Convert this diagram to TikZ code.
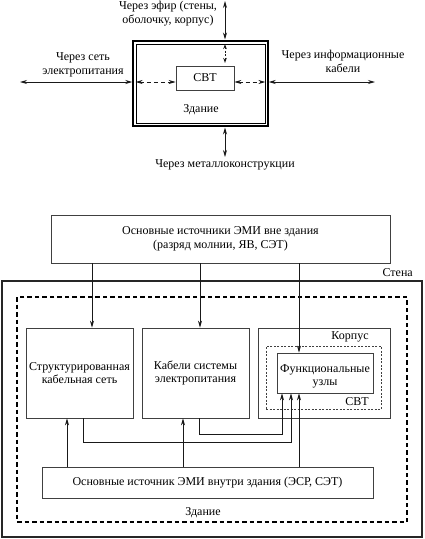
\documentclass[tikz,border=0pt]{standalone}
\usepackage{fontspec}
\setmainfont{Liberation Serif}
\usetikzlibrary{arrows.meta}
\begin{document}
\begin{tikzpicture}[x=1pt,y=-1pt,
  every node/.style={font=\fontsize{12}{13.5}\selectfont, inner sep=0pt},
  lbl/.style={align=center},
  box/.style={draw=black!75, line width=0.7pt, align=center},
  ln/.style={line width=0.8pt, draw=black!90},
  arr/.style={ln, -{Stealth[length=7pt,width=4pt]}},
  darr/.style={ln, {Stealth[length=7pt,width=4pt]}-{Stealth[length=7pt,width=4pt]}},
  ddarr/.style={darr, dash pattern=on 4pt off 3pt},
  bigdash/.style={line width=1.2pt, dash pattern=on 4.5pt off 3pt},
  smalldash/.style={line width=0.7pt, dash pattern=on 2pt off 1.5pt, draw=black!75}
]
\useasboundingbox (0,0) rectangle (424,539);

% ---------- top figure ----------
\node[draw, line width=1.5pt, minimum width=135pt, minimum height=85pt] (bld) at (200.5,83.5) {};
\node[draw, line width=0.7pt, minimum width=129pt, minimum height=79pt] (bldin) at (200.5,83.5) {};
\node[box, minimum width=58pt, minimum height=24pt] (svt) at (205,78) {СВТ};
\node[lbl] (zd1) at (201,110) {Здание};

\coordinate (lA) at (20,82);
\coordinate (lB) at (bld.west |- lA);
\coordinate (liA) at (bldin.west |- lA);
\coordinate (liB) at (svt.west |- lA);
\coordinate (riA) at (svt.east |- lA);
\coordinate (riB) at (bldin.east |- lA);
\coordinate (rA) at (bld.east |- lA);
\coordinate (rB) at (375,82);
\coordinate (tA) at (225,1);
\coordinate (tB) at (225,39.5);
\coordinate (tiA) at (225,44);
\coordinate (tiB) at (225,63);
\coordinate (bA) at (225,127.5);
\coordinate (bB) at (225,157);

\draw[darr] (lA) -- (lB);
\draw[ddarr] (liA) -- (liB);
\draw[ddarr] (riA) -- (riB);
\draw[darr] (rA) -- (rB);
\draw[darr] (tA) -- (tB);
\draw[ln, dash pattern=on 2pt off 1.5pt, {Stealth[length=5pt,width=3.5pt,open]}-{Stealth[length=5pt,width=3.5pt,open]}] (tiA) -- (tiB);
\draw[darr] (bA) -- (bB);

\node[lbl] (t1) at (168,13.5) {Через эфир (стены,\\оболочку, корпус)};
\node[lbl] (t2) at (83,65) {Через сеть\\электропитания};
\node[lbl] (t3) at (343,61.5) {Через информационные\\кабели};
\node[lbl] (t4) at (225,165) {Через металлоконструкции};

% ---------- bottom figure ----------
\node[box, minimum width=339pt, minimum height=48pt] (src) at (220.5,239) {Основные источники ЭМИ вне здания\\(разряд молнии, ЯВ, СЭТ)};
\node[draw=black!85, line width=1.1pt, minimum width=420pt, minimum height=256pt] (wall) at (212,409) {};
\node[lbl, anchor=east] (stena) at (413,273) {Стена};
\node[draw, bigdash, minimum width=390pt, minimum height=225pt] (bldg) at (212,409.5) {};
\node[lbl] (zd2) at (203,513) {Здание};

\node[box, minimum width=107pt, minimum height=90pt] (scs) at (79.5,373) {Структурированная\\кабельная сеть};
\node[box, minimum width=107pt, minimum height=90pt] (pwr) at (195.5,373) {Кабели системы\\электропитания};
\node[box, minimum width=132pt, minimum height=90pt] (korp) at (324,373) {};
\node[lbl] (korpl) at (350,337) {Корпус};
\node[draw, smalldash, minimum width=115pt, minimum height=63pt] (svtb) at (323.5,377.5) {};
\node[lbl] (svtl) at (357,402) {СВТ};
\node[box, minimum width=96pt, minimum height=40pt] (func) at (325,373) {};
\node[lbl] (funcl) at (325,376.5) {Функциональные\\узлы};
\node[box, minimum width=331pt, minimum height=31pt] (isrc) at (207.5,482.5) {Основные источник ЭМИ внутри здания (ЭСР, СЭТ)};

\draw[arr] (src.south -| 92,0) -- (scs.north -| 92,0);
\draw[arr] (src.south -| 200,0) -- (pwr.north -| 200,0);
\draw[arr] (src.south -| 299,0) -- (func.north -| 299,0);

\draw[arr] (isrc.north -| 67,0) -- (scs.south -| 67,0);
\draw[arr] (isrc.north -| 183,0) -- (pwr.south -| 183,0);
\draw[arr] (isrc.north -| 299,0) -- (func.south -| 299,0);

\draw[arr] (scs.south -| 83,0) |- (291,442) -- (func.south -| 291,0);
\draw[arr] (pwr.south -| 199,0) |- (282,434) -- (func.south -| 282,0);
\end{tikzpicture}
\end{document}
